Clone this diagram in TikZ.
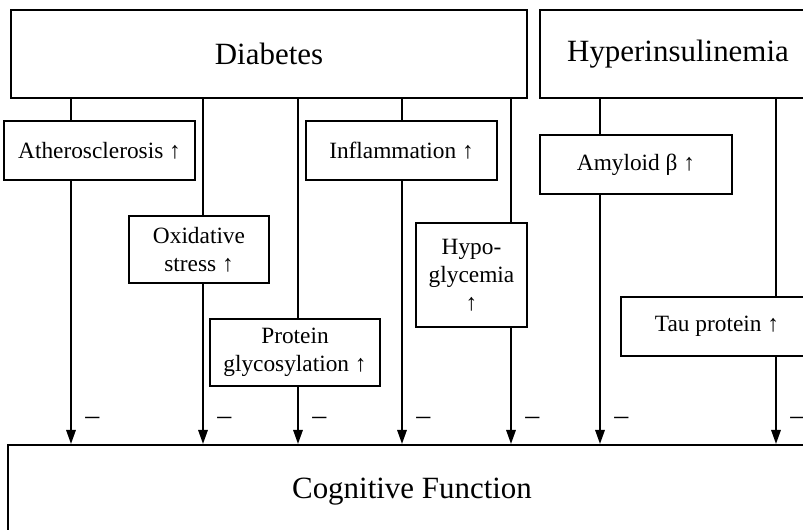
\documentclass[tikz,border=0pt]{standalone}
\usepackage{fontspec}
\setmainfont{Liberation Serif}
\usepackage{tikz}
\usetikzlibrary{arrows.meta,calc}
\tikzset{factor/.style={draw, line width=1.5pt, rectangle, align=center, inner sep=2pt, font=\fontsize{17.5}{21}\selectfont},
cause/.style={factor, minimum height=66pt, font=\fontsize{23.2}{27}\selectfont},
link/.style={line width=1.5pt},
inhib/.style={line width=1.5pt, -{Triangle[length=10.5pt,width=7pt]}},
minus/.style={font=\fontsize{21}{24}\selectfont, xshift=16pt, yshift=17pt}}

\begin{document}
\begin{tikzpicture}[x=0.75pt,y=-0.75pt]
\useasboundingbox (0,0) rectangle (803,530);
\clip (0,0) rectangle (803,530);
% causes and outcome
\node[cause, minimum width=387pt] (diab) at (269,54) {Diabetes};
\node[cause, minimum width=207pt] (hyper) at (678,54) {Hyperinsulinemia};
\node[cause, minimum width=606pt, minimum height=70.5pt] (cog) at (412,492) {Cognitive Function};
% mediators
\node[factor, minimum width=143.25pt, minimum height=44.25pt] (ather) at (99.5,150.5) {Atherosclerosis ↑};
\node[factor, minimum width=105pt, minimum height=50.25pt] (oxid) at (199,249.5) {Oxidative\\stress ↑};
\node[factor, minimum width=127.5pt, minimum height=50.25pt] (glyc) at (295,352.5) {Protein\\glycosylation ↑};
\node[factor, minimum width=143.25pt, minimum height=44.25pt] (infl) at (401.5,150.5) {Inflammation ↑};
\node[factor, minimum width=83.25pt, minimum height=78pt] (hypo) at (471.5,275) {Hypo-\\glycemia\\↑};
\node[factor, minimum width=144pt, minimum height=44.25pt] (amyl) at (636,164.5) {Amyloid β ↑};
\node[factor, minimum width=144pt, minimum height=44.25pt] (tau) at (717,326.5) {Tau protein ↑};
% columns of the pathways
\coordinate (c1) at (71,0);
\coordinate (c2) at (203,0);
\coordinate (c3) at (298,0);
\coordinate (c4) at (402,0);
\coordinate (c5) at (511,0);
\coordinate (c6) at (600,0);
\coordinate (c7) at (776,0);
\draw[link] (diab.south -| c1) -- (ather.north -| c1);
\draw[link] (diab.south -| c2) -- (oxid.north -| c2);
\draw[link] (diab.south -| c3) -- (glyc.north -| c3);
\draw[link] (diab.south -| c4) -- (infl.north -| c4);
\draw[link] (diab.south -| c5) -- (hypo.north -| c5);
\draw[link] (hyper.south -| c6) -- (amyl.north -| c6);
\draw[link] (hyper.south -| c7) -- (tau.north -| c7);
\draw[inhib] (ather.south -| c1) -- (cog.north -| c1) node[at end, minus] {–};
\draw[inhib] (oxid.south -| c2) -- (cog.north -| c2) node[at end, minus] {–};
\draw[inhib] (glyc.south -| c3) -- (cog.north -| c3) node[at end, minus] {–};
\draw[inhib] (infl.south -| c4) -- (cog.north -| c4) node[at end, minus] {–};
\draw[inhib] (hypo.south -| c5) -- (cog.north -| c5) node[at end, minus] {–};
\draw[inhib] (amyl.south -| c6) -- (cog.north -| c6) node[at end, minus] {–};
\draw[inhib] (tau.south -| c7) -- (cog.north -| c7) node[at end, minus] {–};
\end{tikzpicture}
\end{document}
